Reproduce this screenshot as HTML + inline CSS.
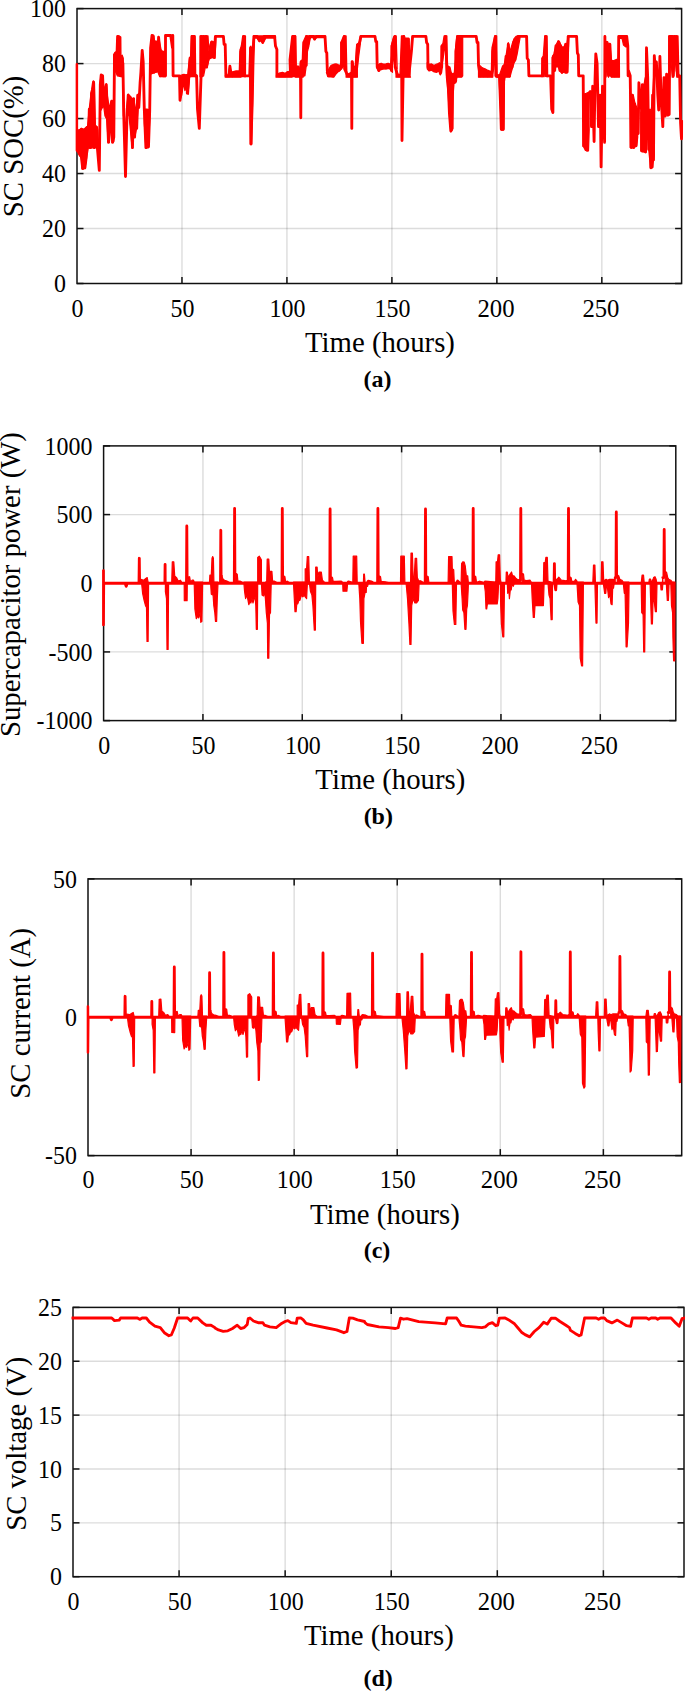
<!DOCTYPE html>
<html lang="en"><head><meta charset="utf-8"><title>SC figures</title>
<style>
html,body{margin:0;padding:0;background:#fff;}
body{width:685px;height:1691px;overflow:hidden;}
svg{display:block;font-family:"Liberation Serif", "Times New Roman", serif;}
.grid{stroke:#262626;stroke-opacity:0.16;stroke-width:1.4;}
.box{fill:none;stroke:#111;stroke-width:1.5;}
.tick{stroke:#111;stroke-width:1.5;}
.data{fill:none;stroke:#ff0000;stroke-width:2.85;stroke-linejoin:round;stroke-linecap:round;}
.blob{fill:#ff0000;stroke:#ff0000;stroke-width:1.2;stroke-linejoin:round;}
.tl{font-size:25.9px;fill:#000;}
.lab{font-size:29.6px;fill:#000;}
.cap{font-size:24.0px;font-weight:bold;fill:#000;}
</style></head><body>
<svg width="685" height="1691" viewBox="0 0 685 1691">
<rect width="685" height="1691" fill="#fff"/>
<defs><clipPath id="clipa"><rect x="75.5" y="8.6" width="607.60" height="274.90"/></clipPath></defs>
<g><line x1="181.97" y1="8.6" x2="181.97" y2="283.5" class="grid"/>
<line x1="286.93" y1="8.6" x2="286.93" y2="283.5" class="grid"/>
<line x1="391.90" y1="8.6" x2="391.90" y2="283.5" class="grid"/>
<line x1="496.86" y1="8.6" x2="496.86" y2="283.5" class="grid"/>
<line x1="601.83" y1="8.6" x2="601.83" y2="283.5" class="grid"/>
<line x1="77.0" y1="228.52" x2="681.6" y2="228.52" class="grid"/>
<line x1="77.0" y1="173.54" x2="681.6" y2="173.54" class="grid"/>
<line x1="77.0" y1="118.56" x2="681.6" y2="118.56" class="grid"/>
<line x1="77.0" y1="63.58" x2="681.6" y2="63.58" class="grid"/>
<rect x="77.0" y="8.6" width="604.60" height="274.90" class="box"/>
<line x1="181.97" y1="283.5" x2="181.97" y2="277.0" class="tick"/>
<line x1="181.97" y1="8.6" x2="181.97" y2="15.1" class="tick"/>
<line x1="286.93" y1="283.5" x2="286.93" y2="277.0" class="tick"/>
<line x1="286.93" y1="8.6" x2="286.93" y2="15.1" class="tick"/>
<line x1="391.90" y1="283.5" x2="391.90" y2="277.0" class="tick"/>
<line x1="391.90" y1="8.6" x2="391.90" y2="15.1" class="tick"/>
<line x1="496.86" y1="283.5" x2="496.86" y2="277.0" class="tick"/>
<line x1="496.86" y1="8.6" x2="496.86" y2="15.1" class="tick"/>
<line x1="601.83" y1="283.5" x2="601.83" y2="277.0" class="tick"/>
<line x1="601.83" y1="8.6" x2="601.83" y2="15.1" class="tick"/>
<line x1="77.0" y1="283.50" x2="83.5" y2="283.50" class="tick"/>
<line x1="681.6" y1="283.50" x2="675.1" y2="283.50" class="tick"/>
<line x1="77.0" y1="228.52" x2="83.5" y2="228.52" class="tick"/>
<line x1="681.6" y1="228.52" x2="675.1" y2="228.52" class="tick"/>
<line x1="77.0" y1="173.54" x2="83.5" y2="173.54" class="tick"/>
<line x1="681.6" y1="173.54" x2="675.1" y2="173.54" class="tick"/>
<line x1="77.0" y1="118.56" x2="83.5" y2="118.56" class="tick"/>
<line x1="681.6" y1="118.56" x2="675.1" y2="118.56" class="tick"/>
<line x1="77.0" y1="63.58" x2="83.5" y2="63.58" class="tick"/>
<line x1="681.6" y1="63.58" x2="675.1" y2="63.58" class="tick"/>
<line x1="77.0" y1="8.60" x2="83.5" y2="8.60" class="tick"/>
<line x1="681.6" y1="8.60" x2="675.1" y2="8.60" class="tick"/>
<g clip-path="url(#clipa)">
<path d="M76.7 130.1 L78.8 130.1 L81.4 128.4 L84.0 129.2 L86.6 126.6 L87.5 126.6 L89.3 108.2 L91.0 93.3 L92.4 88.1 L93.5 81.1 L94.5 82.8 L95.4 126.6 L97.2 126.6 L98.0 130.1 L99.3 170.4 L98.0 145.9 L96.3 145.9 L94.5 148.5 L91.9 147.6 L90.1 148.5 L88.4 147.6 L86.6 158.1 L84.9 168.6 L81.9 168.6 L80.5 156.4 L78.8 154.6 L76.7 150.3Z M99.8 84.6 L101.2 74.9 L102.6 75.8 L103.6 95.1 L105.0 91.6 L106.3 83.7 L107.3 95.1 L109.4 109.1 L110.6 102.1 L112.0 100.3 L113.4 112.6 L113.8 141.5 L112.0 142.4 L110.6 123.1 L109.4 142.4 L108.2 142.4 L106.8 119.6 L105.0 116.1 L103.6 105.6 L101.5 109.1 L99.8 112.6Z M113.8 54.8 L115.2 53.0 L116.6 51.3 L117.6 35.9 L119.1 35.9 L119.8 60.0 L121.2 60.0 L122.2 55.1 L123.3 58.3 L123.4 116.1 L122.6 77.6 L121.7 76.7 L117.3 75.8 L115.9 72.3 L113.8 70.5Z M126.4 109.1 L128.2 94.2 L130.4 96.8 L132.2 98.6 L133.9 98.6 L135.7 112.6 L137.4 95.1 L138.7 94.2 L139.2 107.3 L138.0 109.1 L136.6 128.4 L134.8 137.1 L133.4 137.1 L132.2 148.5 L130.4 130.1 L128.7 112.6 L126.4 119.6Z M144.3 109.1 L147.1 109.1 L149.7 110.0 L149.9 116.1 L148.5 147.6 L145.9 148.5 L144.3 123.1Z M150.6 46.0 L152.0 35.2 L153.7 35.2 L154.8 42.5 L155.8 40.8 L157.6 42.5 L158.6 36.4 L159.7 42.5 L161.1 49.5 L162.5 51.3 L165.5 51.3 L165.5 76.7 L159.7 76.7 L157.6 71.4 L155.8 72.3 L153.2 73.2 L150.6 74.1Z M180.0 75.8 L182.1 74.9 L183.9 74.4 L186.1 74.9 L187.9 74.4 L189.6 58.3 L190.5 56.5 L190.5 76.7 L189.6 77.6 L188.4 94.2 L186.7 84.6 L184.9 90.7 L183.5 82.8 L181.8 95.1 L180.0 100.3Z M189.6 58.3 L190.9 56.5 L191.6 35.9 L194.7 35.9 L195.4 74.1 L196.6 74.9 L196.6 76.7 L189.6 76.7Z M200.0 35.9 L208.0 35.9 L208.9 51.3 L210.1 44.3 L211.5 41.1 L213.3 41.6 L214.3 42.5 L215.7 35.9 L215.7 42.5 L215.0 58.3 L212.4 57.4 L208.9 59.2 L207.2 67.9 L205.4 67.0 L203.6 75.8 L202.4 76.7 L200.0 76.7Z M225.2 75.8 L228.2 74.9 L229.8 65.6 L230.8 71.4 L232.6 71.9 L236.1 70.9 L240.4 70.9 L241.0 77.2 L225.2 77.2Z M239.2 72.3 L239.9 51.3 L241.3 46.0 L242.7 35.9 L245.5 35.9 L245.5 76.7 L239.2 76.7Z M249.7 48.6 L250.9 46.0 L252.2 51.3 L252.9 42.5 L253.9 35.9 L254.3 42.5 L253.6 56.5 L252.5 103.8 L251.8 144.1 L250.4 144.1 L249.7 76.7Z M253.6 35.9 L275.5 35.9 L275.5 38.1 L265.8 38.1 L264.4 40.8 L262.7 43.4 L260.9 39.9 L259.2 41.6 L257.1 38.1 L253.6 38.1Z M276.0 74.9 L279.0 73.2 L282.5 72.3 L285.1 73.2 L287.7 71.9 L290.7 70.9 L291.8 60.0 L292.1 77.2 L276.0 77.2Z M290.4 60.0 L292.1 46.0 L293.5 35.9 L295.6 35.9 L296.0 76.7 L290.4 76.7Z M290.0 60.0 L291.4 46.0 L292.6 35.9 L295.3 35.9 L295.8 76.7 L290.0 76.7Z M295.3 75.8 L296.7 67.0 L297.9 66.2 L299.1 74.1 L300.5 61.8 L301.9 60.0 L303.1 61.8 L303.1 77.2 L295.3 77.2Z M302.6 60.0 L303.7 40.8 L305.8 35.9 L311.0 35.9 L311.0 37.3 L310.1 39.0 L308.9 46.0 L307.5 51.3 L306.1 67.0 L304.9 75.8 L302.6 76.7Z M311.0 35.9 L325.0 35.9 L325.0 37.6 L316.3 37.6 L314.9 39.9 L313.6 37.6 L311.0 37.6Z M326.4 72.3 L328.9 68.8 L331.2 65.3 L333.8 64.4 L335.9 63.9 L338.2 64.9 L340.5 65.3 L341.9 42.5 L342.6 67.0 L341.7 68.8 L339.1 70.9 L335.9 74.1 L333.8 77.2 L327.7 76.7 L326.4 72.3Z M340.8 42.5 L342.6 40.8 L343.6 35.9 L346.1 35.9 L346.9 74.1 L346.1 68.8 L344.3 60.0 L342.6 67.0 L340.8 68.8Z M346.1 72.3 L347.8 74.1 L351.3 72.3 L352.7 60.9 L354.1 68.8 L355.2 65.3 L356.6 46.0 L357.4 77.2 L346.1 77.2Z M355.7 60.0 L356.9 44.3 L359.2 42.5 L360.4 35.9 L360.9 38.1 L360.1 46.0 L358.7 56.5 L357.4 68.8 L355.7 76.7Z M376.7 65.3 L379.3 64.4 L381.1 63.2 L383.7 64.4 L386.0 63.9 L388.1 63.2 L390.7 64.4 L392.0 46.0 L392.5 72.3 L391.6 71.4 L389.9 68.4 L386.4 68.8 L382.8 69.1 L380.2 69.7 L378.5 71.4 L376.7 67.0Z M391.3 46.0 L393.4 37.3 L394.4 35.9 L396.2 35.9 L397.2 68.8 L396.2 46.0 L395.1 51.3 L393.4 60.0 L391.3 71.4Z M396.0 67.0 L397.7 74.1 L400.0 74.4 L402.1 35.9 L404.2 35.9 L405.6 39.0 L407.0 38.1 L408.2 65.3 L410.0 56.5 L410.0 77.2 L396.0 77.2Z M400.0 74.1 L401.4 35.9 L403.9 35.9 L404.9 51.3 L406.1 38.1 L407.4 38.1 L408.4 60.0 L409.6 74.9 L410.5 77.2 L400.0 77.2Z M427.2 62.7 L429.8 64.4 L431.5 63.9 L434.2 65.6 L435.9 64.4 L437.7 63.9 L439.4 62.7 L441.2 64.4 L441.7 72.3 L440.3 74.9 L438.9 70.9 L436.8 72.3 L434.2 71.9 L431.5 70.2 L428.9 70.9 L427.2 68.8Z M441.2 46.0 L442.9 43.4 L444.1 35.9 L446.9 35.9 L447.3 76.7 L446.4 75.8 L445.5 46.0 L444.1 51.3 L442.9 60.0 L441.2 67.0Z M446.4 74.9 L448.2 66.2 L449.9 67.0 L451.2 72.3 L452.6 74.1 L454.3 73.2 L455.7 51.3 L456.8 77.6 L455.7 82.8 L454.0 83.7 L453.1 95.1 L452.2 130.1 L450.8 131.9 L449.4 116.1 L448.2 95.1 L446.4 77.2Z M455.2 51.3 L456.9 35.9 L462.7 35.9 L462.7 75.8 L461.7 77.2 L456.4 77.2 L455.2 81.1Z M478.5 64.4 L480.6 66.2 L482.3 67.9 L485.0 68.8 L486.7 69.7 L489.3 70.9 L492.0 71.9 L492.8 77.2 L478.5 77.2Z M492.0 51.3 L493.2 46.0 L494.6 35.9 L496.7 35.9 L497.2 77.2 L496.0 77.2 L494.9 56.5 L493.7 68.8 L492.0 77.2Z M496.7 74.9 L499.5 74.9 L502.5 66.2 L504.2 64.4 L505.1 77.2 L504.2 82.8 L503.4 130.1 L501.3 130.1 L500.2 103.8 L499.0 77.6 L496.7 77.2Z M504.2 64.4 L506.0 55.7 L508.3 42.5 L510.0 51.3 L512.1 44.3 L513.9 39.0 L516.0 36.4 L520.0 35.9 L520.0 38.1 L517.0 54.8 L515.6 60.0 L513.9 63.5 L511.2 72.3 L510.0 77.2 L504.2 77.2Z M541.9 58.3 L543.3 55.7 L544.7 35.9 L547.1 35.9 L547.7 76.7 L546.1 75.8 L545.0 65.3 L544.2 76.7 L541.9 76.7Z M552.0 57.4 L553.8 53.9 L555.9 45.1 L558.2 40.8 L559.9 42.5 L561.7 46.9 L563.4 47.8 L565.2 44.3 L566.9 43.4 L568.2 35.9 L568.7 37.3 L567.8 72.3 L565.7 73.2 L563.4 72.3 L561.7 73.2 L559.9 70.9 L558.2 67.0 L555.9 67.0 L553.8 70.5 L552.0 76.7Z M583.2 94.2 L586.2 93.3 L588.8 92.4 L589.2 130.1 L588.5 150.8 L585.3 150.3 L583.2 145.9Z M604.6 35.9 L606.0 42.5 L607.2 41.6 L608.5 46.0 L609.9 43.4 L611.3 60.0 L613.4 60.9 L615.1 60.0 L616.9 59.2 L618.3 60.0 L619.3 35.9 L619.5 77.2 L611.3 77.2 L609.9 60.0 L609.2 60.0 L608.5 77.2 L607.4 60.0 L606.7 60.0 L606.0 77.2 L604.6 77.2Z M619.5 35.9 L627.0 35.9 L627.0 46.9 L625.6 46.9 L623.5 45.1 L622.1 38.7 L619.5 38.1Z M630.2 95.1 L633.3 95.1 L635.1 103.8 L636.8 107.3 L637.7 109.1 L637.7 137.1 L636.8 145.9 L635.1 146.8 L633.3 147.6 L630.2 147.6Z M640.7 112.6 L641.4 109.1 L642.8 85.4 L644.2 83.7 L645.2 77.6 L645.9 77.6 L645.9 151.1 L645.6 152.5 L643.0 152.0 L640.7 151.1Z M648.7 112.6 L649.8 109.1 L651.2 110.8 L652.6 95.1 L653.6 77.6 L654.3 154.6 L653.6 159.9 L652.2 167.8 L650.5 167.8 L648.7 149.4Z M668.7 35.9 L678.0 35.9 L678.9 74.1 L679.7 77.2 L676.8 77.2 L675.7 65.3 L674.7 60.0 L673.6 77.2 L672.2 77.2 L671.2 63.5 L670.1 51.3 L668.7 77.6Z" class="blob"/>
<path d="M76.7 64.4 L76.7 150.3 L78.8 131.0 L80.2 155.5 L81.4 129.2 L82.8 168.6 L84.0 130.1 L84.9 167.8 L86.1 158.1 L87.5 127.5 L88.4 144.1 L89.3 109.1 L90.5 147.6 L91.5 93.3 L92.4 89.8 L93.5 81.9 L94.5 147.6 L95.9 126.6 L97.2 145.9 L99.3 170.4 L100.3 84.6 L101.2 74.9 L102.6 75.8 L103.6 103.8 L105.0 91.6 L106.3 84.6 L107.3 112.6 L108.5 142.4 L110.3 117.8 L111.7 101.2 L112.6 142.4 L113.8 137.1 L114.5 54.8 L115.5 53.0 L116.4 70.5 L117.6 36.4 L120.0 37.3 L120.3 75.8 L120.6 55.7 L122.9 63.5 L123.8 116.1 L125.5 176.5 L126.9 119.6 L128.2 95.1 L129.2 107.3 L130.1 96.8 L131.3 123.1 L132.5 147.6 L133.6 98.6 L134.6 137.1 L135.7 116.1 L136.7 128.4 L137.8 95.1 L138.8 107.3 L140.1 82.8 L140.9 72.3 L142.2 50.4 L143.2 61.8 L144.3 109.1 L145.9 147.6 L147.1 110.8 L148.5 146.8 L149.7 110.8 L150.6 47.8 L152.0 35.5 L153.2 36.4 L154.1 72.3 L155.5 42.5 L156.4 71.4 L157.6 68.8 L158.6 37.3 L159.7 51.3 L160.6 75.8 L162.0 52.2 L162.8 75.8 L165.5 75.8 L165.5 35.5 L170.7 35.5 L172.5 47.8 L172.8 35.5 L173.1 75.8 L179.5 75.8 L180.0 100.3 L181.8 84.6 L183.5 75.8 L186.7 89.8 L187.0 75.8 L187.3 93.3 L190.0 58.3 L190.9 75.8 L191.9 36.4 L194.4 36.4 L194.9 75.8 L196.6 75.8 L197.5 109.1 L199.3 128.4 L201.0 77.6 L201.3 36.4 L201.6 75.8 L203.6 36.4 L205.7 65.3 L206.0 36.4 L206.3 67.0 L208.9 56.5 L210.1 57.4 L211.5 42.5 L212.4 56.5 L214.2 57.4 L215.4 36.4 L223.4 36.4 L224.1 44.3 L225.2 44.3 L225.9 75.8 L229.1 75.8 L229.9 66.2 L230.8 72.3 L232.6 75.8 L236.1 72.3 L240.4 72.3 L240.4 75.8 L241.0 49.5 L243.6 44.3 L243.9 36.4 L244.2 75.8 L249.7 75.8 L250.6 47.8 L250.9 144.1 L252.2 103.8 L253.2 53.0 L253.9 36.4 L257.1 36.4 L259.7 40.8 L261.5 38.1 L262.7 42.5 L264.1 36.4 L274.6 36.4 L275.5 46.0 L276.9 49.5 L276.9 74.1 L279.0 75.8 L285.1 75.8 L287.7 72.3 L290.4 72.3 L290.0 60.0 L292.6 36.4 L294.9 36.4 L295.6 70.5 L296.7 75.8 L297.9 67.0 L300.5 75.8 L300.8 117.8 L301.1 61.8 L302.6 74.1 L303.7 42.5 L306.3 65.3 L306.6 36.4 L306.9 47.8 L309.6 36.4 L313.6 36.4 L314.5 39.0 L316.3 36.4 L325.0 36.4 L325.9 51.3 L326.8 53.0 L327.3 70.5 L328.9 75.8 L331.2 67.0 L332.9 75.8 L334.7 65.3 L335.9 72.3 L337.3 65.3 L339.1 70.5 L341.7 67.0 L341.7 42.5 L344.3 36.4 L344.6 68.8 L347.8 75.8 L351.5 75.8 L351.8 128.4 L352.1 61.8 L353.9 75.8 L356.2 75.8 L357.4 45.1 L359.2 44.3 L360.9 36.4 L375.0 36.4 L375.8 41.6 L376.7 41.6 L377.2 67.0 L379.0 70.5 L380.2 64.4 L381.4 68.8 L383.7 65.3 L386.0 67.9 L388.1 64.4 L389.9 67.0 L391.6 70.5 L392.0 46.0 L394.9 36.4 L395.2 67.0 L397.7 75.8 L400.4 75.8 L401.7 75.8 L402.0 140.6 L403.8 36.4 L404.1 75.8 L408.5 39.0 L408.8 75.8 L411.4 51.3 L412.6 36.4 L425.9 36.4 L426.6 42.5 L427.7 44.3 L428.0 67.0 L429.8 69.7 L431.2 65.3 L433.3 69.7 L435.0 66.2 L437.1 70.5 L438.9 64.4 L440.3 73.2 L441.7 67.0 L442.0 46.0 L445.2 44.3 L445.5 36.4 L447.3 75.8 L447.6 67.0 L449.4 112.6 L450.8 131.0 L452.2 128.4 L452.6 75.8 L454.0 74.1 L454.7 81.9 L455.7 81.1 L456.1 51.3 L457.5 36.4 L460.5 36.4 L460.8 75.8 L461.1 36.4 L476.2 36.4 L477.1 42.5 L478.0 42.5 L478.5 65.3 L480.2 75.8 L482.3 68.8 L483.7 75.8 L485.8 70.5 L487.6 75.8 L489.3 72.3 L492.0 75.8 L492.8 47.8 L495.5 36.4 L495.8 75.8 L499.5 75.8 L500.7 109.1 L501.3 129.2 L503.4 129.2 L503.7 67.0 L504.8 75.8 L506.0 56.5 L507.2 70.5 L508.3 44.3 L509.5 75.8 L510.9 53.0 L512.1 67.0 L513.5 42.5 L514.9 60.0 L516.7 39.0 L517.9 36.4 L526.6 36.4 L527.2 58.3 L528.4 60.0 L528.9 75.8 L542.4 75.8 L542.9 58.3 L545.4 56.5 L545.7 36.4 L546.0 75.8 L550.6 75.8 L551.7 109.1 L552.9 112.6 L553.4 56.5 L554.7 70.5 L555.9 46.0 L557.3 60.0 L558.7 41.6 L559.9 70.5 L560.8 46.0 L562.0 72.3 L563.4 47.8 L564.7 68.8 L565.7 44.3 L566.9 72.3 L568.2 36.4 L576.6 36.4 L577.4 53.0 L578.3 54.8 L578.7 75.8 L583.2 75.8 L583.6 145.9 L586.8 95.1 L587.1 150.3 L587.4 95.1 L590.2 91.6 L591.5 126.6 L592.7 86.3 L594.1 141.5 L595.0 81.1 L595.8 53.9 L597.1 63.5 L598.5 126.6 L600.2 95.1 L601.1 166.9 L602.5 86.3 L604.6 142.4 L604.9 36.4 L605.2 75.8 L607.2 42.5 L608.5 75.8 L609.9 44.3 L611.3 75.8 L613.4 61.8 L614.8 75.8 L618.1 60.0 L618.4 75.8 L618.7 36.4 L619.5 36.4 L626.7 36.4 L627.8 46.0 L628.1 75.8 L628.4 70.5 L630.2 75.8 L631.2 147.6 L632.4 95.1 L633.7 147.6 L634.7 103.8 L635.9 145.9 L637.2 109.1 L638.2 133.6 L638.9 82.8 L641.8 112.6 L642.1 151.1 L642.4 84.6 L644.7 112.6 L645.6 152.0 L646.5 47.8 L647.7 77.6 L648.7 149.4 L650.0 112.6 L650.8 167.8 L652.2 166.9 L652.6 95.1 L653.5 159.9 L654.3 55.7 L655.7 74.1 L656.4 61.8 L657.8 95.1 L658.7 110.0 L659.9 56.5 L661.0 95.1 L662.8 126.6 L664.0 77.6 L665.2 116.1 L666.6 74.1 L668.0 115.2 L669.2 114.3 L669.8 36.4 L672.2 36.4 L673.3 75.8 L674.5 36.4 L675.4 42.5 L676.2 36.4 L677.1 70.5 L678.0 75.8 L679.7 75.8 L680.6 123.1 L681.5 138.9 L682.0 121.4" class="data"/>
</g>
<text transform="translate(77.60,317.30) scale(0.925,1)" class="tl" text-anchor="middle">0</text>
<text transform="translate(182.57,317.30) scale(0.925,1)" class="tl" text-anchor="middle">50</text>
<text transform="translate(287.53,317.30) scale(0.925,1)" class="tl" text-anchor="middle">100</text>
<text transform="translate(392.50,317.30) scale(0.925,1)" class="tl" text-anchor="middle">150</text>
<text transform="translate(495.96,317.30) scale(0.955,1)" class="tl" text-anchor="middle">200</text>
<text transform="translate(600.93,317.30) scale(0.955,1)" class="tl" text-anchor="middle">250</text>
<text transform="translate(65.9,292.10) scale(0.925,1)" class="tl" text-anchor="end">0</text>
<text transform="translate(65.9,237.12) scale(0.925,1)" class="tl" text-anchor="end">20</text>
<text transform="translate(65.9,182.14) scale(0.925,1)" class="tl" text-anchor="end">40</text>
<text transform="translate(65.9,127.16) scale(0.925,1)" class="tl" text-anchor="end">60</text>
<text transform="translate(65.9,72.18) scale(0.925,1)" class="tl" text-anchor="end">80</text>
<text transform="translate(65.9,17.20) scale(0.925,1)" class="tl" text-anchor="end">100</text>
<text transform="translate(380,352.29999999999995) scale(0.972,1)" class="lab" text-anchor="middle">Time (hours)</text>
<text transform="translate(23.0,146.45) rotate(-90) scale(0.972,1)" class="lab" text-anchor="middle">SC SOC(%)</text>
<text x="377.6" y="386.8" class="cap" text-anchor="middle">(a)</text></g>
<defs><clipPath id="clipb"><rect x="102.1" y="445.9" width="575.20" height="274.70"/></clipPath></defs>
<g><line x1="202.94" y1="445.9" x2="202.94" y2="720.6" class="grid"/>
<line x1="302.28" y1="445.9" x2="302.28" y2="720.6" class="grid"/>
<line x1="401.62" y1="445.9" x2="401.62" y2="720.6" class="grid"/>
<line x1="500.96" y1="445.9" x2="500.96" y2="720.6" class="grid"/>
<line x1="600.30" y1="445.9" x2="600.30" y2="720.6" class="grid"/>
<line x1="103.6" y1="651.92" x2="675.8" y2="651.92" class="grid"/>
<line x1="103.6" y1="583.25" x2="675.8" y2="583.25" class="grid"/>
<line x1="103.6" y1="514.58" x2="675.8" y2="514.58" class="grid"/>
<rect x="103.6" y="445.9" width="572.20" height="274.70" class="box"/>
<line x1="202.94" y1="720.6" x2="202.94" y2="714.1" class="tick"/>
<line x1="202.94" y1="445.9" x2="202.94" y2="452.4" class="tick"/>
<line x1="302.28" y1="720.6" x2="302.28" y2="714.1" class="tick"/>
<line x1="302.28" y1="445.9" x2="302.28" y2="452.4" class="tick"/>
<line x1="401.62" y1="720.6" x2="401.62" y2="714.1" class="tick"/>
<line x1="401.62" y1="445.9" x2="401.62" y2="452.4" class="tick"/>
<line x1="500.96" y1="720.6" x2="500.96" y2="714.1" class="tick"/>
<line x1="500.96" y1="445.9" x2="500.96" y2="452.4" class="tick"/>
<line x1="600.30" y1="720.6" x2="600.30" y2="714.1" class="tick"/>
<line x1="600.30" y1="445.9" x2="600.30" y2="452.4" class="tick"/>
<line x1="103.6" y1="720.60" x2="110.1" y2="720.60" class="tick"/>
<line x1="675.8" y1="720.60" x2="669.3" y2="720.60" class="tick"/>
<line x1="103.6" y1="651.92" x2="110.1" y2="651.92" class="tick"/>
<line x1="675.8" y1="651.92" x2="669.3" y2="651.92" class="tick"/>
<line x1="103.6" y1="583.25" x2="110.1" y2="583.25" class="tick"/>
<line x1="675.8" y1="583.25" x2="669.3" y2="583.25" class="tick"/>
<line x1="103.6" y1="514.58" x2="110.1" y2="514.58" class="tick"/>
<line x1="675.8" y1="514.58" x2="669.3" y2="514.58" class="tick"/>
<line x1="103.6" y1="445.90" x2="110.1" y2="445.90" class="tick"/>
<line x1="675.8" y1="445.90" x2="669.3" y2="445.90" class="tick"/>
<g clip-path="url(#clipb)">
<path d="M140.2 583.2 L140.9 579.3 L143.7 580.2 L145.8 578.5 L147.2 577.6 L148.3 583.2 L148.6 583.2 L148.1 641.5 L147.0 641.5 L146.5 607.4 L145.5 605.6 L144.1 600.4 L142.6 593.3 L141.6 583.2 L140.2 583.2Z M165.4 582.5 L168.6 582.5 L168.6 583.2 L168.1 649.4 L167.0 649.4 L166.5 598.6 L165.4 591.6Z M171.7 583.2 L172.3 561.8 L173.8 561.8 L174.7 575.8 L176.5 577.6 L178.2 581.1 L180.5 580.2 L182.2 583.2 L182.2 583.2 L171.7 583.2Z M184.2 582.5 L187.3 582.5 L187.3 583.2 L187.1 600.7 L184.3 600.7 L184.2 583.2Z M188.0 577.6 L189.6 576.7 L190.5 582.0 L192.2 580.2 L193.5 580.2 L194.2 582.0 L194.2 583.2 L188.0 583.2Z M194.2 582.0 L202.6 582.0 L202.6 583.2 L201.9 621.4 L200.8 622.3 L200.1 612.6 L198.7 617.9 L197.7 616.1 L196.3 618.7 L194.9 609.1 L194.2 583.2Z M209.4 583.2 L209.9 575.0 L211.3 575.0 L212.0 558.3 L212.7 556.6 L213.4 558.3 L213.9 582.0 L218.0 582.0 L218.0 583.2 L217.3 598.6 L216.6 621.4 L215.5 621.4 L214.8 612.6 L213.8 605.6 L213.1 595.1 L211.3 594.2 L210.6 583.2 L209.4 583.2Z M221.5 575.8 L223.2 579.3 L224.6 580.2 L226.9 581.1 L229.5 582.5 L229.5 583.2 L221.5 583.2Z M235.7 574.1 L237.2 574.1 L237.9 581.1 L240.0 581.1 L242.7 582.5 L242.7 583.2 L235.7 583.2Z M243.9 582.0 L257.6 582.0 L257.7 583.2 L257.4 629.3 L256.3 629.3 L255.8 605.6 L255.1 596.9 L254.1 598.6 L253.0 603.0 L251.9 598.6 L250.9 603.0 L249.8 602.1 L248.8 604.7 L247.7 598.6 L246.7 595.1 L245.6 598.6 L244.6 591.6 L243.9 583.2Z M257.7 557.4 L259.3 556.2 L260.4 558.0 L261.4 560.1 L261.4 583.2 L257.7 583.2Z M261.4 582.5 L265.4 582.5 L265.4 598.6 L264.6 591.6 L263.5 596.0 L262.1 595.1 L261.4 583.2Z M265.4 582.5 L266.7 581.1 L267.2 559.2 L268.8 559.2 L269.5 573.2 L270.2 571.4 L271.9 571.4 L272.6 581.1 L272.6 583.2 L271.2 583.2 L270.5 612.6 L269.5 614.4 L268.8 658.2 L267.7 658.2 L267.4 623.1 L266.3 612.6 L265.4 598.6Z M272.6 581.1 L274.2 581.1 L276.8 582.5 L276.8 583.2 L272.6 583.2Z M283.5 576.7 L284.9 576.7 L285.6 582.0 L287.3 581.1 L289.1 582.5 L289.1 583.2 L283.5 583.2Z M293.5 582.0 L305.2 582.0 L305.2 596.9 L304.2 595.1 L302.8 596.9 L301.4 595.1 L299.9 600.4 L298.9 600.4 L297.8 603.9 L296.8 603.9 L296.1 611.7 L295.0 611.7 L294.3 598.6 L293.5 583.2Z M305.2 568.8 L306.6 568.8 L307.3 556.6 L308.7 556.6 L309.4 582.0 L309.4 583.2 L307.3 584.6 L306.6 598.6 L305.2 596.9Z M309.4 582.0 L315.7 582.0 L315.7 583.2 L315.4 630.1 L314.3 630.1 L312.9 605.6 L311.9 595.1 L310.5 591.6 L309.4 583.2Z M315.7 567.1 L317.1 567.1 L317.8 577.6 L318.9 572.0 L321.3 572.0 L322.4 580.2 L324.6 582.5 L324.6 583.2 L315.7 583.2Z M331.3 577.6 L332.5 577.6 L333.2 581.4 L336.0 581.4 L341.3 581.1 L342.7 582.5 L342.7 583.2 L331.3 583.2Z M342.7 582.5 L347.6 582.5 L347.6 583.2 L346.9 591.2 L343.0 591.2 L342.7 583.2Z M352.8 583.2 L353.2 556.2 L356.7 556.2 L357.2 583.2 L357.2 583.2 L352.8 583.2Z M358.8 582.5 L363.4 582.5 L363.7 574.1 L364.4 574.1 L365.1 582.5 L367.6 582.5 L368.3 583.2 L367.6 586.3 L366.5 586.3 L366.2 592.5 L365.1 592.5 L363.9 598.6 L363.4 643.3 L361.9 643.3 L360.5 621.4 L359.8 598.6 L358.8 583.2Z M379.1 576.7 L380.5 576.7 L381.2 581.4 L385.1 581.8 L388.6 582.5 L388.6 583.2 L379.1 583.2Z M400.5 583.2 L400.8 556.2 L404.3 556.2 L404.9 583.2 L404.9 583.2 L400.5 583.2Z M406.1 582.5 L410.6 582.5 L411.0 553.1 L412.4 553.1 L413.1 577.6 L414.2 577.6 L415.2 558.3 L416.6 558.3 L417.3 577.6 L419.1 582.0 L419.1 583.2 L418.4 600.4 L416.6 603.0 L414.9 603.0 L413.1 598.6 L411.7 605.6 L411.0 644.5 L409.9 644.5 L408.9 623.1 L407.5 598.6 L406.1 583.2Z M426.6 576.7 L428.2 576.7 L428.9 582.5 L428.9 583.2 L426.6 583.2Z M448.1 583.2 L448.6 556.6 L452.0 556.6 L452.3 568.8 L453.7 569.7 L454.3 582.5 L456.5 582.5 L456.5 583.2 L455.8 624.5 L454.4 624.5 L453.0 610.9 L452.7 598.6 L452.3 583.2 L448.1 583.2Z M461.1 583.2 L461.6 563.6 L462.8 561.8 L464.2 562.2 L465.3 566.2 L466.3 575.8 L467.7 575.8 L468.4 583.2 L468.4 583.2 L468.1 591.6 L467.4 605.6 L466.7 609.1 L466.0 629.3 L464.9 629.3 L463.9 612.6 L462.7 610.0 L462.1 598.6 L461.1 583.2Z M474.4 576.7 L475.8 576.7 L476.5 582.5 L476.5 583.2 L474.4 583.2Z M484.2 582.0 L484.9 581.1 L488.1 581.4 L495.1 582.0 L495.8 581.1 L496.1 561.8 L497.5 561.8 L498.2 554.8 L499.6 554.8 L500.3 579.3 L501.0 582.5 L504.5 582.5 L504.5 583.2 L503.8 636.8 L502.8 636.8 L501.4 624.0 L500.7 605.6 L500.3 583.2 L498.6 583.2 L497.9 598.6 L497.2 603.9 L487.4 603.9 L486.7 608.8 L486.0 608.8 L485.3 591.6 L484.2 583.2Z M505.9 583.2 L506.3 572.0 L507.3 572.0 L508.0 577.6 L510.1 574.1 L511.5 572.0 L512.6 575.8 L514.0 575.8 L516.1 578.5 L517.8 579.7 L519.6 580.2 L519.6 583.2 L514.3 583.2 L513.3 586.3 L512.2 583.2 L511.2 589.8 L510.5 588.1 L509.4 598.6 L508.7 588.1 L507.7 593.3 L507.3 583.2 L505.9 583.2Z M522.1 574.1 L523.5 574.1 L524.2 580.2 L526.6 580.7 L530.1 580.2 L531.5 582.5 L531.5 583.2 L522.1 583.2Z M531.5 582.5 L535.0 582.5 L535.0 605.6 L534.3 617.5 L533.3 617.5 L532.2 598.6 L531.5 583.2Z M535.0 582.5 L543.4 582.5 L543.8 562.7 L545.2 562.7 L545.9 557.4 L547.3 557.4 L548.0 581.1 L552.5 582.5 L552.5 583.2 L552.2 619.6 L551.1 619.6 L550.1 598.6 L549.0 595.1 L548.0 583.2 L544.1 583.2 L543.4 605.6 L535.0 605.6Z M556.4 580.2 L558.8 577.2 L561.3 580.2 L564.8 580.7 L567.2 581.1 L567.2 583.2 L556.4 583.2Z M569.7 577.6 L571.1 577.6 L571.8 581.4 L574.4 581.4 L575.6 579.3 L577.0 581.1 L577.0 583.2 L569.7 583.2Z M577.0 582.0 L583.4 582.0 L583.4 583.2 L582.6 666.0 L581.6 666.0 L580.2 658.2 L579.5 605.6 L578.1 602.1 L577.0 583.2Z M592.8 583.2 L593.5 565.0 L594.9 565.0 L595.4 582.5 L597.4 582.5 L597.5 583.2 L597.0 623.1 L596.0 623.1 L595.3 598.6 L594.9 583.2 L592.8 583.2Z M601.2 583.2 L601.6 561.8 L603.0 561.8 L603.7 581.1 L606.1 579.3 L607.5 580.2 L609.6 579.3 L612.4 579.3 L614.2 579.3 L615.2 577.6 L615.2 583.2 L614.2 583.2 L613.5 588.1 L612.8 584.6 L612.1 604.7 L611.0 603.9 L609.6 591.6 L608.6 597.7 L607.5 588.1 L606.5 584.6 L605.8 593.3 L604.7 593.3 L603.3 583.2 L601.2 583.2Z M617.3 575.8 L618.7 575.8 L619.8 579.3 L621.9 580.2 L623.3 582.0 L628.9 582.0 L629.1 583.2 L628.5 623.1 L627.1 646.8 L626.1 646.8 L625.7 623.1 L625.0 588.1 L624.3 593.3 L623.3 583.2 L617.3 583.2Z M641.2 583.2 L642.1 575.0 L643.5 575.0 L644.2 582.5 L645.4 582.5 L645.4 583.2 L644.7 652.0 L643.7 652.0 L643.1 614.4 L641.7 612.6 L641.2 583.2Z M648.7 583.2 L649.4 579.0 L650.5 579.0 L651.5 582.8 L653.3 578.5 L653.6 577.6 L655.0 576.7 L656.1 579.3 L656.8 583.2 L657.0 583.2 L656.4 611.7 L655.4 611.7 L654.7 605.6 L654.0 598.6 L653.1 598.6 L652.4 624.0 L651.4 624.0 L650.8 605.6 L650.1 583.2 L648.7 583.2Z M660.6 582.5 L662.4 582.5 L662.8 577.6 L662.9 583.2 L662.4 589.8 L661.0 589.8 L660.6 583.2Z M665.2 572.3 L666.6 572.3 L667.7 577.6 L668.7 579.3 L670.8 580.2 L672.2 582.0 L675.0 582.0 L675.0 583.2 L674.7 660.8 L673.6 660.8 L672.9 637.1 L672.6 612.6 L671.5 605.6 L670.8 583.2 L669.1 583.2 L668.4 600.4 L667.3 600.4 L666.3 583.2 L665.2 583.2Z" class="blob"/>
<path d="M103.4 570.6 L103.4 624.9 L103.7 583.2 L125.1 583.2 L126.2 586.3 L127.2 583.2 L137.9 583.2 L139.0 583.2 L139.3 558.3 L139.6 583.2 L140.2 583.2 M148.3 583.2 L148.6 583.2 L164.4 583.2 L164.9 583.2 L165.1 564.4 L165.2 583.2 L165.4 582.5 M168.6 583.2 L168.6 583.2 L171.7 583.2 L171.7 583.2 M182.2 583.2 L184.0 583.2 L184.2 583.2 M187.3 583.2 L186.5 583.2 L186.8 525.9 L187.1 577.6 L188.0 577.6 M202.6 583.2 L202.6 583.2 L205.0 583.2 L205.0 583.2 L209.4 583.2 L209.4 583.2 M218.0 583.2 L218.3 583.2 L220.5 583.2 L220.8 530.3 L221.1 577.6 L221.5 575.8 M229.5 583.2 L229.5 583.2 L234.3 583.2 L234.6 508.4 L234.9 574.1 L235.7 574.1 M242.7 583.2 L242.7 583.2 L243.9 583.2 L243.9 583.2 M276.8 583.2 L276.8 583.2 L282.0 583.2 L282.3 508.4 L282.6 576.7 L283.5 576.7 M289.1 583.2 L289.1 583.2 L293.5 583.2 L293.5 583.2 M324.6 583.2 L324.6 583.2 L329.8 583.2 L330.1 508.9 L330.4 577.6 L331.3 577.6 M347.6 583.2 L347.6 583.2 L348.3 582.0 L352.8 583.2 L352.8 583.2 M357.2 583.2 L357.2 583.2 L358.8 583.2 L358.8 583.2 M367.6 582.5 L368.3 581.1 L371.1 581.8 L373.7 583.2 L377.6 583.2 L377.9 508.4 L378.2 576.7 L379.1 576.7 M388.6 583.2 L388.6 583.2 L400.5 583.2 L400.5 583.2 M404.9 583.2 L404.9 583.2 L406.1 583.2 L406.1 583.2 M419.1 583.2 L419.1 583.2 L420.1 581.4 L423.3 583.2 L424.7 583.2 L425.2 583.2 L425.5 508.9 L425.8 576.7 L426.6 576.7 M428.9 583.2 L428.9 583.2 L448.1 583.2 L448.1 583.2 M456.5 583.2 L456.5 583.2 L457.6 581.1 L460.0 583.2 L461.1 583.2 L461.1 583.2 M468.4 583.2 L468.4 583.2 L472.9 583.2 L473.2 508.4 L473.5 576.7 L474.4 576.7 M476.5 583.2 L476.5 583.2 L479.7 582.0 L483.7 583.2 L484.2 583.2 M504.5 583.2 L504.5 583.2 L505.9 583.2 L505.9 583.2 M519.6 580.2 L520.5 580.2 L520.8 508.4 L521.1 574.1 L522.1 574.1 M552.5 583.2 L552.5 583.2 L554.1 583.2 L554.4 563.6 L554.7 583.2 L555.7 589.8 L556.4 580.2 L556.4 580.2 M567.2 581.1 L568.2 581.1 L568.5 508.4 L568.8 577.6 L569.7 577.6 M583.4 583.2 L583.4 583.2 L592.8 583.2 L592.8 583.2 M597.5 583.2 L597.5 583.2 L601.2 583.2 L601.2 583.2 M615.2 577.6 L616.0 577.6 L616.3 511.9 L616.6 575.8 L617.3 575.8 M629.1 583.2 L629.1 583.2 L641.2 583.2 L641.2 583.2 L641.2 583.2 M645.4 583.2 L645.4 583.2 L648.7 583.2 L648.7 583.2 M656.8 583.2 L657.0 583.2 L660.6 583.2 L660.6 583.2 M662.8 577.6 L663.9 577.6 L664.2 529.4 L664.5 572.3 L665.2 572.3 M104.6 583.2 L673.8 583.2" class="data"/>
</g>
<text transform="translate(104.20,753.80) scale(0.925,1)" class="tl" text-anchor="middle">0</text>
<text transform="translate(203.54,753.80) scale(0.925,1)" class="tl" text-anchor="middle">50</text>
<text transform="translate(302.88,753.80) scale(0.925,1)" class="tl" text-anchor="middle">100</text>
<text transform="translate(402.22,753.80) scale(0.925,1)" class="tl" text-anchor="middle">150</text>
<text transform="translate(500.06,753.80) scale(0.955,1)" class="tl" text-anchor="middle">200</text>
<text transform="translate(599.40,753.80) scale(0.955,1)" class="tl" text-anchor="middle">250</text>
<text transform="translate(92.5,729.20) scale(0.925,1)" class="tl" text-anchor="end">-1000</text>
<text transform="translate(92.5,660.52) scale(0.925,1)" class="tl" text-anchor="end">-500</text>
<text transform="translate(92.5,591.85) scale(0.925,1)" class="tl" text-anchor="end">0</text>
<text transform="translate(92.5,523.18) scale(0.925,1)" class="tl" text-anchor="end">500</text>
<text transform="translate(92.5,454.50) scale(0.925,1)" class="tl" text-anchor="end">1000</text>
<text transform="translate(390.3,788.6999999999999) scale(0.972,1)" class="lab" text-anchor="middle">Time (hours)</text>
<text transform="translate(19.9,584.55) rotate(-90) scale(0.972,1)" class="lab" text-anchor="middle">Supercapacitor power (W)</text>
<text x="378.3" y="824.2" class="cap" text-anchor="middle">(b)</text></g>
<defs><clipPath id="clipc"><rect x="86.5" y="878.9" width="596.70" height="276.70"/></clipPath></defs>
<g><line x1="191.07" y1="878.9" x2="191.07" y2="1155.6" class="grid"/>
<line x1="294.15" y1="878.9" x2="294.15" y2="1155.6" class="grid"/>
<line x1="397.22" y1="878.9" x2="397.22" y2="1155.6" class="grid"/>
<line x1="500.29" y1="878.9" x2="500.29" y2="1155.6" class="grid"/>
<line x1="603.36" y1="878.9" x2="603.36" y2="1155.6" class="grid"/>
<line x1="88.0" y1="1017.25" x2="681.7" y2="1017.25" class="grid"/>
<rect x="88.0" y="878.9" width="593.70" height="276.70" class="box"/>
<line x1="191.07" y1="1155.6" x2="191.07" y2="1149.1" class="tick"/>
<line x1="191.07" y1="878.9" x2="191.07" y2="885.4" class="tick"/>
<line x1="294.15" y1="1155.6" x2="294.15" y2="1149.1" class="tick"/>
<line x1="294.15" y1="878.9" x2="294.15" y2="885.4" class="tick"/>
<line x1="397.22" y1="1155.6" x2="397.22" y2="1149.1" class="tick"/>
<line x1="397.22" y1="878.9" x2="397.22" y2="885.4" class="tick"/>
<line x1="500.29" y1="1155.6" x2="500.29" y2="1149.1" class="tick"/>
<line x1="500.29" y1="878.9" x2="500.29" y2="885.4" class="tick"/>
<line x1="603.36" y1="1155.6" x2="603.36" y2="1149.1" class="tick"/>
<line x1="603.36" y1="878.9" x2="603.36" y2="885.4" class="tick"/>
<line x1="88.0" y1="1155.60" x2="94.5" y2="1155.60" class="tick"/>
<line x1="681.7" y1="1155.60" x2="675.2" y2="1155.60" class="tick"/>
<line x1="88.0" y1="1017.25" x2="94.5" y2="1017.25" class="tick"/>
<line x1="681.7" y1="1017.25" x2="675.2" y2="1017.25" class="tick"/>
<line x1="88.0" y1="878.90" x2="94.5" y2="878.90" class="tick"/>
<line x1="681.7" y1="878.90" x2="675.2" y2="878.90" class="tick"/>
<g clip-path="url(#clipc)">
<path d="M126.0 1017.2 L126.7 1014.0 L129.6 1014.7 L131.8 1013.2 L133.2 1012.5 L134.3 1017.2 L134.7 1017.2 L134.2 1066.2 L133.1 1066.5 L132.5 1037.6 L131.4 1036.2 L130.0 1031.7 L128.5 1025.8 L127.4 1017.2 L126.0 1017.2Z M152.1 1016.6 L155.4 1016.6 L155.4 1017.2 L154.9 1072.8 L153.8 1072.9 L153.2 1030.2 L152.1 1024.3Z M158.7 1017.2 L159.2 999.3 L160.9 999.1 L161.8 1010.9 L163.6 1012.4 L165.4 1015.4 L167.8 1014.6 L169.6 1017.2 L169.6 1017.2 L158.7 1017.2Z M171.6 1016.6 L174.9 1016.6 L174.9 1017.2 L174.7 1032.6 L171.8 1032.4 L171.6 1017.2Z M175.6 1012.2 L177.2 1011.4 L178.1 1016.1 L180.0 1014.5 L181.2 1014.5 L182.0 1016.1 L182.0 1017.2 L175.6 1017.2Z M182.0 1016.1 L190.7 1016.2 L190.7 1017.2 L190.0 1049.2 L188.9 1050.3 L188.1 1042.3 L186.7 1047.4 L185.6 1046.2 L184.1 1048.9 L182.7 1040.5 L182.0 1017.2Z M197.8 1017.2 L198.3 1010.3 L199.8 1010.3 L200.5 996.2 L201.2 994.7 L201.9 996.1 L202.5 1016.2 L206.7 1016.2 L206.7 1017.2 L205.9 1030.1 L205.2 1049.2 L204.1 1049.3 L203.4 1042.0 L202.3 1036.2 L201.6 1027.3 L199.8 1026.5 L199.0 1017.2 L197.8 1017.2Z M210.3 1011.0 L212.1 1013.9 L213.6 1014.7 L215.9 1015.4 L218.7 1016.6 L218.7 1017.2 L210.3 1017.2Z M225.0 1009.3 L226.7 1009.2 L227.4 1015.4 L229.6 1015.3 L232.3 1016.6 L232.3 1017.2 L225.0 1017.2Z M233.6 1016.1 L247.7 1016.1 L247.9 1017.2 L247.6 1057.0 L246.5 1057.1 L245.9 1036.6 L245.2 1029.1 L244.1 1030.6 L243.0 1034.5 L241.9 1030.7 L240.8 1034.6 L239.7 1033.8 L238.7 1036.2 L237.6 1030.8 L236.5 1027.7 L235.4 1030.8 L234.3 1024.6 L233.6 1017.2Z M247.9 994.9 L249.6 993.7 L250.6 995.2 L251.7 997.0 L251.7 1017.2 L247.9 1017.2Z M251.7 1016.6 L255.9 1016.6 L255.9 1030.5 L255.0 1024.5 L253.9 1028.3 L252.5 1027.6 L251.7 1017.2Z M255.9 1016.6 L257.2 1015.4 L257.7 996.8 L259.4 997.0 L260.1 1008.8 L260.8 1007.3 L262.6 1007.3 L263.4 1015.4 L263.4 1017.2 L261.9 1017.2 L261.2 1042.0 L260.1 1043.4 L259.4 1080.1 L258.3 1080.3 L257.9 1051.0 L256.8 1042.6 L255.9 1030.5Z M263.4 1015.4 L265.0 1015.4 L267.7 1016.6 L267.7 1017.2 L263.4 1017.2Z M274.6 1011.6 L276.1 1011.6 L276.8 1016.1 L278.6 1015.4 L280.5 1016.6 L280.5 1017.2 L274.6 1017.2Z M285.0 1016.1 L297.2 1016.2 L297.2 1028.8 L296.1 1027.3 L294.6 1028.8 L293.2 1027.3 L291.7 1031.9 L290.6 1031.9 L289.5 1035.0 L288.5 1035.0 L287.7 1041.9 L286.6 1042.0 L285.9 1030.6 L285.0 1017.2Z M297.2 1005.0 L298.6 1005.0 L299.4 994.5 L300.8 994.4 L301.5 1016.1 L301.5 1017.2 L299.4 1018.4 L298.6 1030.3 L297.2 1028.8Z M301.5 1016.1 L308.1 1016.2 L308.1 1017.2 L307.7 1056.6 L306.6 1056.6 L305.2 1036.3 L304.1 1027.4 L302.6 1024.4 L301.5 1017.2Z M308.1 1003.7 L309.5 1003.7 L310.3 1012.5 L311.3 1007.7 L313.9 1007.6 L315.0 1014.6 L317.3 1016.6 L317.3 1017.2 L308.1 1017.2Z M324.2 1012.3 L325.5 1012.3 L326.2 1015.7 L329.2 1015.7 L334.6 1015.4 L336.1 1016.6 L336.1 1017.2 L324.2 1017.2Z M336.1 1016.6 L341.2 1016.6 L341.2 1017.2 L340.4 1024.3 L336.4 1024.2 L336.1 1017.2Z M346.6 1017.2 L347.0 993.4 L350.6 993.2 L351.1 1017.2 L351.1 1017.2 L346.6 1017.2Z M352.8 1016.6 L357.5 1016.6 L357.9 1009.6 L358.6 1009.6 L359.3 1016.6 L361.9 1016.6 L362.6 1017.2 L361.9 1019.9 L360.8 1019.8 L360.4 1025.0 L359.3 1025.0 L358.1 1030.1 L357.5 1067.6 L356.1 1068.1 L354.6 1050.7 L353.9 1030.8 L352.8 1017.2Z M373.9 1011.6 L375.3 1011.6 L376.1 1015.7 L380.0 1016.0 L383.7 1016.6 L383.7 1017.2 L373.9 1017.2Z M396.0 1017.2 L396.4 993.7 L400.0 993.6 L400.6 1017.2 L400.6 1017.2 L396.0 1017.2Z M401.9 1016.6 L406.6 1016.6 L407.0 991.9 L408.4 991.8 L409.1 1012.5 L410.2 1012.5 L411.3 996.3 L412.8 996.3 L413.5 1012.5 L415.3 1016.2 L415.3 1017.2 L414.6 1031.7 L412.8 1033.8 L410.9 1033.9 L409.1 1030.2 L407.7 1036.1 L407.0 1068.7 L405.9 1069.0 L404.8 1051.5 L403.3 1030.6 L401.9 1017.2Z M423.1 1011.7 L424.7 1011.7 L425.5 1016.6 L425.5 1017.2 L423.1 1017.2Z M445.5 1017.2 L446.0 994.4 L449.5 994.3 L449.8 1004.9 L451.3 1005.8 L451.8 1016.6 L454.2 1016.6 L454.2 1017.2 L453.5 1051.9 L452.0 1051.9 L450.6 1040.8 L450.2 1030.4 L449.8 1017.2 L445.5 1017.2Z M458.9 1017.2 L459.5 1000.7 L460.7 999.3 L462.2 999.4 L463.3 1002.7 L464.4 1010.9 L465.8 1010.8 L466.6 1017.2 L466.6 1017.2 L466.2 1024.5 L465.5 1036.5 L464.7 1039.5 L464.0 1056.6 L462.9 1056.3 L461.8 1042.0 L460.6 1039.7 L460.0 1030.1 L458.9 1017.2Z M472.7 1011.6 L474.2 1011.6 L474.9 1016.6 L474.9 1017.2 L472.7 1017.2Z M482.9 1016.1 L483.6 1015.4 L486.9 1015.7 L494.2 1016.1 L494.9 1015.4 L495.3 998.9 L496.7 998.9 L497.5 992.8 L498.9 992.7 L499.6 1013.9 L500.4 1016.6 L504.0 1016.6 L504.0 1017.2 L503.3 1062.2 L502.2 1062.2 L500.7 1052.4 L500.0 1036.6 L499.6 1017.2 L497.8 1017.2 L497.1 1030.4 L496.4 1034.9 L486.2 1035.2 L485.5 1039.5 L484.7 1039.5 L484.0 1024.5 L482.9 1017.2Z M505.5 1017.2 L505.8 1007.8 L506.9 1007.8 L507.6 1012.5 L509.8 1009.5 L511.3 1007.7 L512.4 1011.0 L513.8 1010.9 L516.0 1013.1 L517.8 1014.2 L519.6 1014.6 L519.6 1017.2 L514.2 1017.2 L513.1 1019.9 L512.0 1017.2 L510.9 1022.8 L510.2 1021.3 L509.1 1030.2 L508.4 1021.3 L507.3 1025.7 L506.9 1017.2 L505.5 1017.2Z M522.2 1009.2 L523.6 1009.1 L524.4 1014.5 L526.9 1015.0 L530.5 1014.5 L532.0 1016.6 L532.0 1017.2 L522.2 1017.2Z M532.0 1016.6 L535.6 1016.6 L535.6 1037.1 L534.9 1047.8 L533.8 1048.0 L532.7 1031.1 L532.0 1017.2Z M535.6 1016.6 L544.3 1016.6 L544.7 999.7 L546.2 999.7 L546.9 995.2 L548.3 995.1 L549.1 1015.4 L553.8 1016.6 L553.8 1017.2 L553.4 1047.8 L552.3 1047.8 L551.2 1030.2 L550.2 1027.3 L549.1 1017.2 L545.1 1017.2 L544.3 1036.4 L535.6 1037.1Z M557.8 1014.7 L560.3 1012.1 L562.9 1014.7 L566.5 1015.1 L569.1 1015.4 L569.1 1017.2 L557.8 1017.2Z M571.6 1012.3 L573.1 1012.2 L573.8 1015.6 L576.5 1015.6 L577.8 1013.7 L579.2 1015.3 L579.2 1017.2 L571.6 1017.2Z M579.2 1016.1 L585.8 1016.2 L585.8 1017.2 L585.0 1086.7 L584.0 1088.2 L582.5 1083.4 L581.8 1037.3 L580.3 1034.2 L579.2 1017.2Z M595.6 1017.2 L596.3 1001.9 L597.8 1001.9 L598.3 1016.6 L600.3 1016.6 L600.5 1017.2 L600.0 1050.8 L598.9 1050.8 L598.1 1030.2 L597.8 1017.2 L595.6 1017.2Z M604.3 1017.2 L604.7 999.2 L606.1 999.1 L606.9 1015.4 L609.4 1013.9 L610.9 1014.7 L613.0 1013.9 L615.9 1013.9 L617.8 1013.9 L618.9 1012.4 L618.9 1017.2 L617.8 1017.2 L617.0 1021.3 L616.3 1018.4 L615.6 1035.5 L614.5 1034.8 L613.0 1024.4 L612.0 1029.6 L610.9 1021.4 L609.8 1018.4 L609.0 1025.8 L608.0 1025.8 L606.5 1017.2 L604.3 1017.2Z M621.0 1010.9 L622.5 1010.9 L623.6 1013.9 L625.8 1014.6 L627.2 1016.1 L633.0 1016.2 L633.2 1017.2 L632.7 1050.7 L631.2 1070.9 L630.1 1072.0 L629.8 1051.8 L629.0 1021.4 L628.3 1026.0 L627.2 1017.2 L621.0 1017.2Z M645.8 1017.2 L646.7 1010.3 L648.2 1010.3 L648.9 1016.6 L650.2 1016.6 L650.2 1017.2 L649.4 1075.0 L648.3 1075.1 L647.8 1043.5 L646.3 1041.9 L645.8 1017.2Z M653.6 1017.2 L654.3 1013.7 L655.4 1013.7 L656.5 1016.9 L658.3 1013.2 L658.7 1012.5 L660.2 1011.8 L661.3 1014.0 L662.0 1017.2 L662.2 1017.2 L661.6 1041.1 L660.5 1041.1 L659.8 1036.0 L659.1 1030.1 L658.2 1030.1 L657.4 1051.5 L656.3 1051.6 L655.8 1036.1 L655.1 1017.2 L653.6 1017.2Z M666.0 1016.6 L667.8 1016.6 L668.2 1012.5 L668.3 1017.2 L667.8 1022.8 L666.3 1022.8 L666.0 1017.2Z M670.7 1008.0 L672.2 1008.0 L673.3 1012.4 L674.3 1013.9 L676.5 1014.6 L678.0 1016.1 L680.9 1016.2 L680.9 1017.2 L680.5 1082.4 L679.4 1082.7 L678.7 1063.1 L678.3 1042.3 L677.2 1036.6 L676.5 1017.2 L674.7 1017.2 L674.0 1031.9 L672.9 1031.8 L671.8 1017.2 L670.7 1017.2Z" class="blob"/>
<path d="M87.8 1006.6 L87.8 1052.2 L88.1 1017.2 L110.3 1017.2 L111.4 1019.8 L112.5 1017.2 L123.6 1017.2 L124.8 1017.2 L125.1 996.3 L125.4 1017.2 L126.0 1017.2 M134.3 1017.2 L134.7 1017.2 L151.1 1017.2 L151.6 1017.2 L151.8 1001.4 L152.0 1017.2 L152.1 1016.6 M155.4 1017.2 L155.4 1017.2 L158.7 1017.2 L158.7 1017.2 M169.6 1017.2 L171.4 1017.2 L171.6 1017.2 M174.9 1017.2 L174.0 1017.2 L174.3 966.9 L174.6 1012.3 L175.6 1012.2 M190.7 1017.2 L190.7 1017.2 L193.2 1017.2 L193.2 1017.2 L197.8 1017.2 L197.8 1017.2 M206.7 1017.2 L207.0 1017.2 L209.3 1017.2 L209.6 972.7 L209.9 1012.5 L210.3 1011.0 M218.7 1017.2 L218.7 1017.2 L223.6 1017.2 L223.9 952.4 L224.2 1009.3 L225.0 1009.3 M232.3 1017.2 L232.3 1017.2 L233.6 1017.2 L233.6 1017.2 M267.7 1017.2 L267.7 1017.2 L273.1 1017.2 L273.4 952.9 L273.7 1011.6 L274.6 1011.6 M280.5 1017.2 L280.5 1017.2 L285.0 1017.2 L285.0 1017.2 M317.3 1017.2 L317.3 1017.2 L322.7 1017.2 L323.0 953.0 L323.3 1012.3 L324.2 1012.3 M341.2 1017.2 L341.2 1017.2 L341.9 1016.1 L346.6 1017.2 L346.6 1017.2 M351.1 1017.2 L351.1 1017.2 L352.8 1017.2 L352.8 1017.2 M361.9 1016.6 L362.6 1015.4 L365.5 1016.0 L368.2 1017.2 L372.3 1017.2 L372.6 953.1 L372.9 1011.6 L373.9 1011.6 M383.7 1017.2 L383.7 1017.2 L396.0 1017.2 L396.0 1017.2 M400.6 1017.2 L400.6 1017.2 L401.9 1017.2 L401.9 1017.2 M415.3 1017.2 L415.3 1017.2 L416.4 1015.7 L419.7 1017.2 L421.1 1017.2 L421.7 1017.2 L422.0 954.1 L422.3 1011.7 L423.1 1011.7 M425.5 1017.2 L425.5 1017.2 L445.5 1017.2 L445.5 1017.2 M454.2 1017.2 L454.2 1017.2 L455.3 1015.4 L457.8 1017.2 L458.9 1017.2 L458.9 1017.2 M466.6 1017.2 L466.6 1017.2 L471.2 1017.2 L471.5 952.4 L471.8 1011.6 L472.7 1011.6 M474.9 1017.2 L474.9 1017.2 L478.2 1016.1 L482.4 1017.2 L482.9 1017.2 M504.0 1017.2 L504.0 1017.2 L505.5 1017.2 L505.5 1017.2 M519.6 1014.6 L520.6 1014.6 L520.9 951.8 L521.2 1009.2 L522.2 1009.2 M553.8 1017.2 L553.8 1017.2 L555.5 1017.2 L555.8 1000.7 L556.1 1017.2 L557.1 1022.8 L557.8 1014.7 L557.8 1014.7 M569.1 1015.4 L570.0 1015.4 L570.3 952.0 L570.6 1012.3 L571.6 1012.3 M585.8 1017.2 L585.8 1017.2 L595.6 1017.2 L595.6 1017.2 M600.5 1017.2 L600.5 1017.2 L604.3 1017.2 L604.3 1017.2 M618.9 1012.4 L619.6 1012.4 L619.9 956.4 L620.3 1010.9 L621.0 1010.9 M633.2 1017.2 L633.2 1017.2 L645.8 1017.2 L645.8 1017.2 L645.8 1017.2 M650.2 1017.2 L650.2 1017.2 L653.6 1017.2 L653.6 1017.2 M662.0 1017.2 L662.2 1017.2 L666.0 1017.2 L666.0 1017.2 M668.2 1012.5 L669.3 1012.5 L669.6 972.0 L669.9 1008.1 L670.7 1008.0 M89.0 1017.2 L679.7 1017.2" class="data"/>
</g>
<text transform="translate(88.60,1188.30) scale(0.925,1)" class="tl" text-anchor="middle">0</text>
<text transform="translate(191.67,1188.30) scale(0.925,1)" class="tl" text-anchor="middle">50</text>
<text transform="translate(294.75,1188.30) scale(0.925,1)" class="tl" text-anchor="middle">100</text>
<text transform="translate(397.82,1188.30) scale(0.925,1)" class="tl" text-anchor="middle">150</text>
<text transform="translate(499.39,1188.30) scale(0.955,1)" class="tl" text-anchor="middle">200</text>
<text transform="translate(602.46,1188.30) scale(0.955,1)" class="tl" text-anchor="middle">250</text>
<text transform="translate(76.9,1164.20) scale(0.925,1)" class="tl" text-anchor="end">-50</text>
<text transform="translate(76.9,1025.85) scale(0.925,1)" class="tl" text-anchor="end">0</text>
<text transform="translate(76.9,887.50) scale(0.925,1)" class="tl" text-anchor="end">50</text>
<text transform="translate(384.9,1223.7) scale(0.972,1)" class="lab" text-anchor="middle">Time (hours)</text>
<text transform="translate(29.7,1013.25) rotate(-90) scale(0.972,1)" class="lab" text-anchor="middle">SC current (A)</text>
<text x="377" y="1257.6" class="cap" text-anchor="middle">(c)</text></g>
<defs><clipPath id="clipd"><rect x="71.5" y="1307.4" width="614.00" height="269.30"/></clipPath></defs>
<g><line x1="179.08" y1="1307.4" x2="179.08" y2="1576.7" class="grid"/>
<line x1="285.15" y1="1307.4" x2="285.15" y2="1576.7" class="grid"/>
<line x1="391.23" y1="1307.4" x2="391.23" y2="1576.7" class="grid"/>
<line x1="497.31" y1="1307.4" x2="497.31" y2="1576.7" class="grid"/>
<line x1="603.38" y1="1307.4" x2="603.38" y2="1576.7" class="grid"/>
<line x1="73.0" y1="1522.84" x2="684.0" y2="1522.84" class="grid"/>
<line x1="73.0" y1="1468.98" x2="684.0" y2="1468.98" class="grid"/>
<line x1="73.0" y1="1415.12" x2="684.0" y2="1415.12" class="grid"/>
<line x1="73.0" y1="1361.26" x2="684.0" y2="1361.26" class="grid"/>
<rect x="73.0" y="1307.4" width="611.00" height="269.30" class="box"/>
<line x1="179.08" y1="1576.7" x2="179.08" y2="1570.2" class="tick"/>
<line x1="179.08" y1="1307.4" x2="179.08" y2="1313.9" class="tick"/>
<line x1="285.15" y1="1576.7" x2="285.15" y2="1570.2" class="tick"/>
<line x1="285.15" y1="1307.4" x2="285.15" y2="1313.9" class="tick"/>
<line x1="391.23" y1="1576.7" x2="391.23" y2="1570.2" class="tick"/>
<line x1="391.23" y1="1307.4" x2="391.23" y2="1313.9" class="tick"/>
<line x1="497.31" y1="1576.7" x2="497.31" y2="1570.2" class="tick"/>
<line x1="497.31" y1="1307.4" x2="497.31" y2="1313.9" class="tick"/>
<line x1="603.38" y1="1576.7" x2="603.38" y2="1570.2" class="tick"/>
<line x1="603.38" y1="1307.4" x2="603.38" y2="1313.9" class="tick"/>
<line x1="73.0" y1="1576.70" x2="79.5" y2="1576.70" class="tick"/>
<line x1="684.0" y1="1576.70" x2="677.5" y2="1576.70" class="tick"/>
<line x1="73.0" y1="1522.84" x2="79.5" y2="1522.84" class="tick"/>
<line x1="684.0" y1="1522.84" x2="677.5" y2="1522.84" class="tick"/>
<line x1="73.0" y1="1468.98" x2="79.5" y2="1468.98" class="tick"/>
<line x1="684.0" y1="1468.98" x2="677.5" y2="1468.98" class="tick"/>
<line x1="73.0" y1="1415.12" x2="79.5" y2="1415.12" class="tick"/>
<line x1="684.0" y1="1415.12" x2="677.5" y2="1415.12" class="tick"/>
<line x1="73.0" y1="1361.26" x2="79.5" y2="1361.26" class="tick"/>
<line x1="684.0" y1="1361.26" x2="677.5" y2="1361.26" class="tick"/>
<line x1="73.0" y1="1307.40" x2="79.5" y2="1307.40" class="tick"/>
<line x1="684.0" y1="1307.40" x2="677.5" y2="1307.40" class="tick"/>
<g clip-path="url(#clipd)">
<path d="M72.0 1318.0 L111.7 1318.0 L114.5 1320.6 L119.2 1320.1 L120.6 1318.0 L137.4 1318.0 L139.7 1319.4 L142.1 1318.0 L146.3 1318.0 L149.6 1322.2 L154.9 1326.2 L160.3 1327.6 L164.3 1332.7 L168.9 1335.7 L171.3 1335.0 L174.3 1328.0 L177.6 1318.0 L187.6 1318.0 L190.7 1321.0 L193.0 1318.0 L197.7 1318.0 L202.8 1322.9 L206.3 1325.2 L211.0 1325.2 L215.0 1327.6 L215.0 1328.0 L218.5 1329.9 L223.2 1331.3 L227.8 1330.8 L232.5 1328.5 L237.2 1325.2 L240.7 1328.5 L244.2 1327.6 L247.2 1324.5 L248.2 1318.7 L250.0 1318.0 L253.5 1321.0 L258.2 1322.7 L262.9 1322.7 L264.5 1325.2 L269.9 1326.9 L276.2 1327.6 L281.6 1323.4 L285.1 1321.5 L287.9 1320.6 L290.9 1322.7 L296.3 1323.4 L297.2 1318.2 L301.0 1318.0 L303.3 1319.9 L306.1 1323.4 L313.1 1325.2 L327.1 1328.0 L336.5 1329.9 L343.9 1332.7 L347.0 1331.5 L349.3 1318.0 L352.8 1318.2 L357.5 1319.9 L364.5 1321.5 L365.0 1322.7 L367.3 1324.5 L379.0 1326.9 L388.4 1327.6 L395.4 1328.5 L398.2 1327.6 L400.5 1318.2 L403.5 1319.2 L407.0 1318.7 L418.7 1321.7 L435.1 1322.9 L445.6 1323.8 L447.2 1318.0 L456.6 1318.0 L458.4 1320.6 L461.2 1325.2 L465.4 1326.2 L481.8 1327.6 L485.3 1326.9 L488.8 1323.8 L492.3 1322.7 L495.8 1325.7 L497.7 1325.2 L499.3 1318.2 L505.1 1318.0 L509.8 1320.6 L514.5 1323.8 L518.0 1328.0 L521.5 1332.2 L525.0 1334.6 L525.0 1334.6 L529.7 1336.9 L534.3 1331.5 L539.0 1327.6 L543.7 1322.2 L547.2 1324.1 L551.2 1318.2 L555.4 1318.2 L560.0 1321.5 L565.9 1325.2 L569.4 1327.6 L570.5 1330.4 L575.2 1333.4 L579.2 1335.7 L581.1 1335.0 L584.6 1318.0 L596.2 1318.0 L598.6 1319.2 L600.9 1318.0 L604.4 1318.0 L606.8 1320.6 L611.9 1322.9 L617.3 1320.1 L621.9 1322.9 L626.6 1325.7 L630.6 1326.4 L632.4 1318.0 L646.5 1318.0 L648.8 1319.2 L651.1 1318.0 L655.8 1318.0 L657.7 1319.2 L660.0 1318.0 L671.0 1318.0 L675.7 1322.9 L679.2 1326.2 L682.0 1318.7 L685.0 1318.0" class="data"/>
</g>
<text transform="translate(73.60,1610.00) scale(0.925,1)" class="tl" text-anchor="middle">0</text>
<text transform="translate(179.68,1610.00) scale(0.925,1)" class="tl" text-anchor="middle">50</text>
<text transform="translate(285.75,1610.00) scale(0.925,1)" class="tl" text-anchor="middle">100</text>
<text transform="translate(391.83,1610.00) scale(0.925,1)" class="tl" text-anchor="middle">150</text>
<text transform="translate(496.41,1610.00) scale(0.955,1)" class="tl" text-anchor="middle">200</text>
<text transform="translate(602.48,1610.00) scale(0.955,1)" class="tl" text-anchor="middle">250</text>
<text transform="translate(61.9,1585.30) scale(0.925,1)" class="tl" text-anchor="end">0</text>
<text transform="translate(61.9,1531.44) scale(0.925,1)" class="tl" text-anchor="end">5</text>
<text transform="translate(61.9,1477.58) scale(0.925,1)" class="tl" text-anchor="end">10</text>
<text transform="translate(61.9,1423.72) scale(0.925,1)" class="tl" text-anchor="end">15</text>
<text transform="translate(61.9,1369.86) scale(0.925,1)" class="tl" text-anchor="end">20</text>
<text transform="translate(61.9,1316.00) scale(0.925,1)" class="tl" text-anchor="end">25</text>
<text transform="translate(378.9,1644.9) scale(0.972,1)" class="lab" text-anchor="middle">Time (hours)</text>
<text transform="translate(26.3,1443.75) rotate(-90) scale(0.972,1)" class="lab" text-anchor="middle">SC voltage (V)</text>
<text x="378.2" y="1685.9" class="cap" text-anchor="middle">(d)</text></g>
</svg>
</body></html>
